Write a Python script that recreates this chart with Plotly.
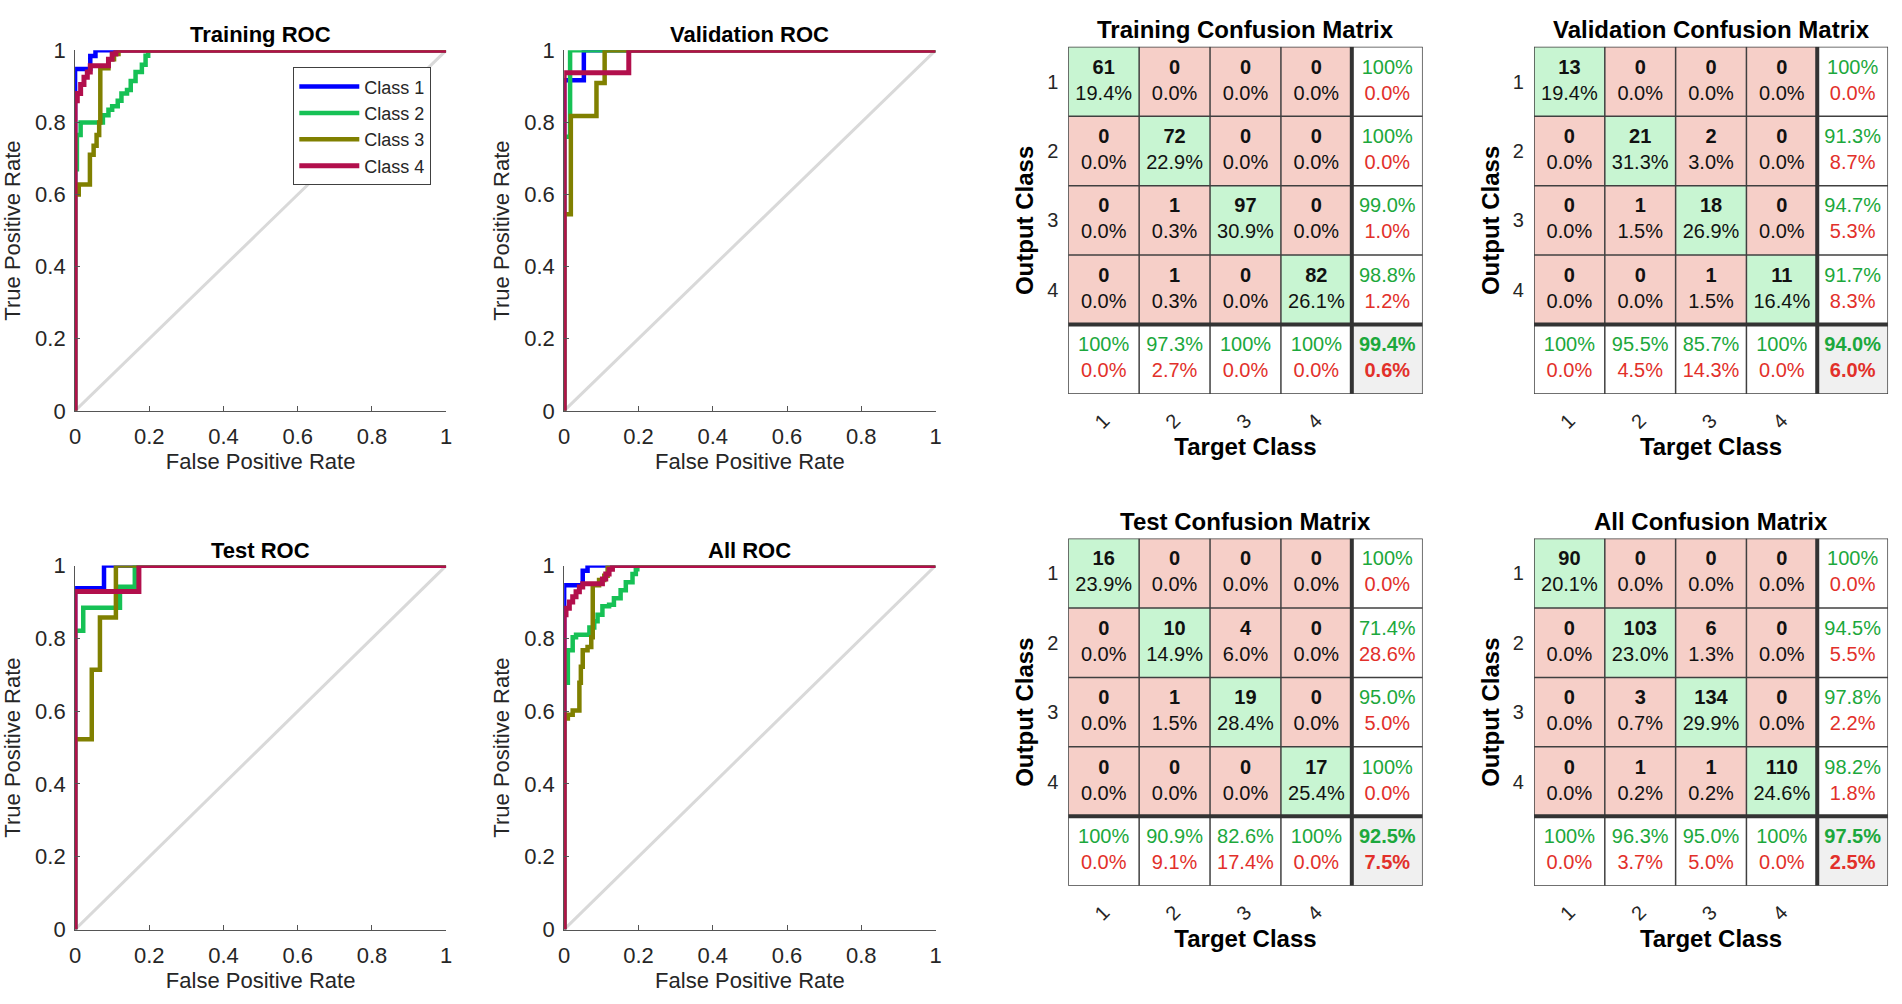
import numpy as np
import plotly.graph_objects as go

W, H = 1902, 1004
FONT = "Liberation Sans, Arial, sans-serif"

roc_titles = ["Training ROC", "Validation ROC", "Test ROC", "All ROC"]
cm_titles = ["Training Confusion Matrix", "Validation Confusion Matrix",
             "Test Confusion Matrix", "All Confusion Matrix"]
class_names = ["Class 1", "Class 2", "Class 3", "Class 4"]
class_colors = ["#0000ff", "#16c155", "#808000", "#b20f4c"]
roc_ticks = [0, 0.2, 0.4, 0.6, 0.8, 1]
roc_ticktext = ["0", "0.2", "0.4", "0.6", "0.8", "1"]
cm_ticktext = ["1", "2", "3", "4"]

# ROC corners, one list per class; the curve goes right then up to each point
train_fpr = [
    [0, 0, 0.041, 0.055, 1],
    [0, 0, 0.005, 0.015, 0.075, 0.09, 0.1, 0.115, 0.125, 0.14, 0.15, 0.163, 0.18, 0.19, 0.197, 1],
    [0, 0, 0.01, 0.04, 0.05, 0.058, 0.065, 0.068, 0.09, 0.105, 0.117, 1],
    [0, 0, 0.006, 0.015, 0.024, 0.033, 0.041, 0.09, 0.1, 0.11, 1],
]
train_tpr = [
    [0, 0.948, 0.984, 1, 1],
    [0, 0.67, 0.765, 0.8, 0.82, 0.835, 0.845, 0.86, 0.88, 0.89, 0.915, 0.94, 0.96, 0.985, 1, 1],
    [0, 0.6, 0.628, 0.71, 0.735, 0.765, 0.8, 0.95, 0.975, 0.99, 1, 1],
    [0, 0.86, 0.88, 0.905, 0.925, 0.94, 0.957, 0.975, 0.99, 1, 1],
]
val_fpr = [
    [0, 0, 0.053, 1],
    [0, 0, 0.016, 1],
    [0, 0, 0.018, 0.087, 0.109, 1],
    [0, 0, 0.174, 1],
]
val_tpr = [
    [0, 0.917, 1, 1],
    [0, 0.76, 1, 1],
    [0, 0.545, 0.818, 0.909, 1, 1],
    [0, 0.9375, 1, 1],
]
test_fpr = [
    [0, 0, 0.078, 1],
    [0, 0, 0.022, 0.121, 0.161, 1],
    [0, 0, 0.045, 0.067, 0.11, 1],
    [0, 0, 0.172, 1],
]
test_tpr = [
    [0, 0.9375, 1, 1],
    [0, 0.821, 0.884, 0.942, 1, 1],
    [0, 0.523, 0.714, 0.857, 1, 1],
    [0, 0.929, 1, 1],
]
all_fpr = [
    [0, 0, 0.05, 0.063, 1],
    [0, 0, 0.01, 0.023, 0.032, 0.068, 0.081, 0.09, 0.103, 0.121, 0.134, 0.152, 0.166, 0.184, 0.193, 0.197, 1],
    [0, 0, 0.01, 0.023, 0.041, 0.045, 0.05, 0.063, 0.073, 0.077, 0.094, 0.108, 0.117, 0.12, 1],
    [0, 0, 0.005, 0.014, 0.023, 0.032, 0.041, 0.05, 0.103, 0.112, 0.121, 0.13, 1],
]
all_tpr = [
    [0, 0.946, 0.986, 1, 1],
    [0, 0.678, 0.767, 0.803, 0.81, 0.83, 0.847, 0.865, 0.888, 0.892, 0.91, 0.932, 0.954, 0.977, 0.99, 1, 1],
    [0, 0.58, 0.59, 0.602, 0.678, 0.722, 0.767, 0.776, 0.803, 0.946, 0.96, 0.972, 0.995, 1, 1],
    [0, 0.865, 0.883, 0.9, 0.914, 0.928, 0.941, 0.95, 0.963, 0.977, 0.99, 1, 1],
]

# confusion counts: rows = output class, cols = target class
train_cm = [[61, 0, 0, 0], [0, 72, 0, 0], [0, 1, 97, 0], [0, 1, 0, 82]]
val_cm = [[13, 0, 0, 0], [0, 21, 2, 0], [0, 1, 18, 0], [0, 0, 1, 11]]
test_cm = [[16, 0, 0, 0], [0, 10, 4, 0], [0, 1, 19, 0], [0, 0, 0, 17]]
all_cm = [[90, 0, 0, 0], [0, 103, 6, 0], [0, 3, 134, 0], [0, 1, 1, 110]]

roc_sets = [(train_fpr, train_tpr), (val_fpr, val_tpr), (test_fpr, test_tpr), (all_fpr, all_tpr)]
cm_sets = [train_cm, val_cm, test_cm, all_cm]

# panel boxes in pixels (left, right, top, bottom)
roc_boxes = [(69.5, 443, 39.3, 409), (561.7, 935.5, 39.3, 409),
             (69.5, 443, 567.7, 941), (561.7, 935.5, 567.7, 941)]
cm_boxes = [(1069, 1425.7, 35.7, 391.7), (1537.7, 1894, 35.7, 391.7),
            (1069, 1425.7, 540, 896), (1537.7, 1894, 540, 896)]

GREEN_TXT = "#1ca83c"
RED_TXT = "#e2302a"


def dom(box):
    l, r, t, b = box
    return [l / W, r / W], [1 - b / H, 1 - t / H]


def ax(k):
    return ("x", "y") if k == 1 else (f"x{k}", f"y{k}")


def pct(v):
    s = f"{v * 100:.1f}%"
    return "100%" if s == "100.0%" else s


def two_line(top, bottom, bold=False):
    if bold:
        top, bottom = f"<b>{top}</b>", f"<b>{bottom}</b>"
    return (f'<span style="color:{GREEN_TXT}">{top}</span><br>'
            f'<span style="color:{RED_TXT}">{bottom}</span>')


fig = go.Figure()
layout = dict(width=W, height=H, margin=dict(l=0, r=0, t=0, b=0),
              paper_bgcolor="white", plot_bgcolor="white",
              font=dict(family=FONT, size=22, color="#262626"),
              showlegend=True, shapes=[], annotations=[])

# ---- ROC panels ----
for i, (fprs, tprs) in enumerate(roc_sets):
    k = i + 1
    xa, ya = ax(k)
    fig.add_trace(go.Scatter(x=[0, 1], y=[0, 1], mode="lines", xaxis=xa, yaxis=ya,
                             line=dict(color="#d9d9d9", width=3),
                             showlegend=False, hoverinfo="skip"))
    for c in range(4):
        fig.add_trace(go.Scatter(x=fprs[c], y=tprs[c], mode="lines", xaxis=xa, yaxis=ya,
                                 line=dict(color=class_colors[c], width=5 if c == 3 else 4.5, shape="hv"),
                                 name=class_names[c], showlegend=(k == 1),
                                 cliponaxis=False))
    xd, yd = dom(roc_boxes[i])
    axis_common = dict(range=[0, 1], tickvals=roc_ticks, ticktext=roc_ticktext,
                       showgrid=False, zeroline=False, showline=True,
                       linecolor="#555555", linewidth=1, ticks="inside", ticklen=5,
                       tickcolor="#555555", tickfont=dict(size=22, color="#262626"),
                       mirror=False)
    layout["xaxis" if k == 1 else f"xaxis{k}"] = dict(
        axis_common, domain=xd, anchor=ya, ticklabelstandoff=6,
        title=dict(text="False Positive Rate", font=dict(size=22), standoff=4))
    layout["yaxis" if k == 1 else f"yaxis{k}"] = dict(
        axis_common, domain=yd, anchor=xa, ticklabelstandoff=4,
        title=dict(text="True Positive Rate", font=dict(size=22), standoff=8))
    layout["annotations"].append(dict(
        text=f"<b>{roc_titles[i]}</b>", xref=f"{xa} domain", yref=f"{ya} domain",
        x=0.5, y=1, xanchor="center", yanchor="bottom", yshift=1, showarrow=False,
        font=dict(size=22, color="black")))

# ---- confusion matrices ----
colorscale = [[0, "#f6cfc8"], [0.25, "#f6cfc8"], [0.25, "#c8f5d2"], [0.5, "#c8f5d2"],
              [0.5, "#ffffff"], [0.75, "#ffffff"], [0.75, "#f0f0f0"], [1, "#f0f0f0"]]

for i, cm in enumerate(cm_sets):
    k = i + 5
    xa, ya = ax(k)
    counts = np.array(cm)
    total = counts.sum()
    z = np.full((5, 5), 2)
    z[4, 4] = 3
    z[:4, :4] = 0
    np.fill_diagonal(z[:4, :4], 1)
    fig.add_trace(go.Heatmap(z=z, x=list(range(5)), y=list(range(5)), xaxis=xa, yaxis=ya,
                             colorscale=colorscale, zmin=0, zmax=3, showscale=False,
                             hoverinfo="skip"))
    xs, ys, txt = [], [], []
    for r in range(4):
        for c in range(4):
            n = counts[r, c]
            xs.append(c)
            ys.append(r)
            txt.append(f"<b>{n}</b><br>{pct(n / total)}")
    for r in range(4):
        acc = counts[r, r] / counts[r].sum()
        xs.append(4)
        ys.append(r)
        txt.append(two_line(pct(acc), pct(1 - acc)))
    for c in range(4):
        acc = counts[c, c] / counts[:, c].sum()
        xs.append(c)
        ys.append(4)
        txt.append(two_line(pct(acc), pct(1 - acc)))
    acc = np.trace(counts) / total
    xs.append(4)
    ys.append(4)
    txt.append(two_line(pct(acc), pct(1 - acc), bold=True))
    fig.add_trace(go.Scatter(x=xs, y=ys, text=txt, mode="text", xaxis=xa, yaxis=ya,
                             textposition="middle center",
                             textfont=dict(size=20, color="#111111"),
                             showlegend=False, hoverinfo="skip"))

    for b in np.arange(-0.5, 5, 1.0):
        w = 4 if b == 3.5 else 1.5
        col = "#333333" if b == 3.5 else "#404040"
        layout["shapes"].append(dict(type="line", xref=xa, yref=ya, x0=b, x1=b, y0=-0.5, y1=4.5,
                                     line=dict(color=col, width=w)))
        layout["shapes"].append(dict(type="line", xref=xa, yref=ya, y0=b, y1=b, x0=-0.5, x1=4.5,
                                     line=dict(color=col, width=w)))

    xd, yd = dom(cm_boxes[i])
    layout[f"xaxis{k}"] = dict(domain=xd, anchor=ya, range=[-0.5, 4.5], showgrid=False,
                               zeroline=False, tickvals=[0, 1, 2, 3], ticktext=cm_ticktext,
                               tickangle=-45, ticks="", tickfont=dict(size=20),
                               ticklabelstandoff=10,
                               title=dict(text="<b>Target Class</b>", font=dict(size=24, color="black"),
                                          standoff=6))
    layout[f"yaxis{k}"] = dict(domain=yd, anchor=xa, range=[4.5, -0.5], showgrid=False,
                               zeroline=False, tickvals=[0, 1, 2, 3], ticktext=cm_ticktext,
                               ticks="", tickfont=dict(size=20), ticklabelstandoff=9,
                               title=dict(text="<b>Output Class</b>", font=dict(size=24, color="black"),
                                          standoff=6))
    layout["annotations"].append(dict(
        text=f"<b>{cm_titles[i]}</b>", xref=f"{xa} domain", yref=f"{ya} domain",
        x=0.5, y=1, xanchor="center", yanchor="bottom", yshift=2, showarrow=False,
        font=dict(size=24, color="black")))

layout["legend"] = dict(x=428 / W, y=1 - 56.7 / H, xanchor="right", yanchor="top",
                        bgcolor="white", bordercolor="#404040", borderwidth=1,
                        font=dict(size=18, color="#262626"), itemwidth=60, tracegroupgap=0)

fig.update_layout(**layout)
fig.write_html("out.html", config={"displayModeBar": False},
               post_script="document.body.style.margin='0';document.body.style.overflow='hidden';")
